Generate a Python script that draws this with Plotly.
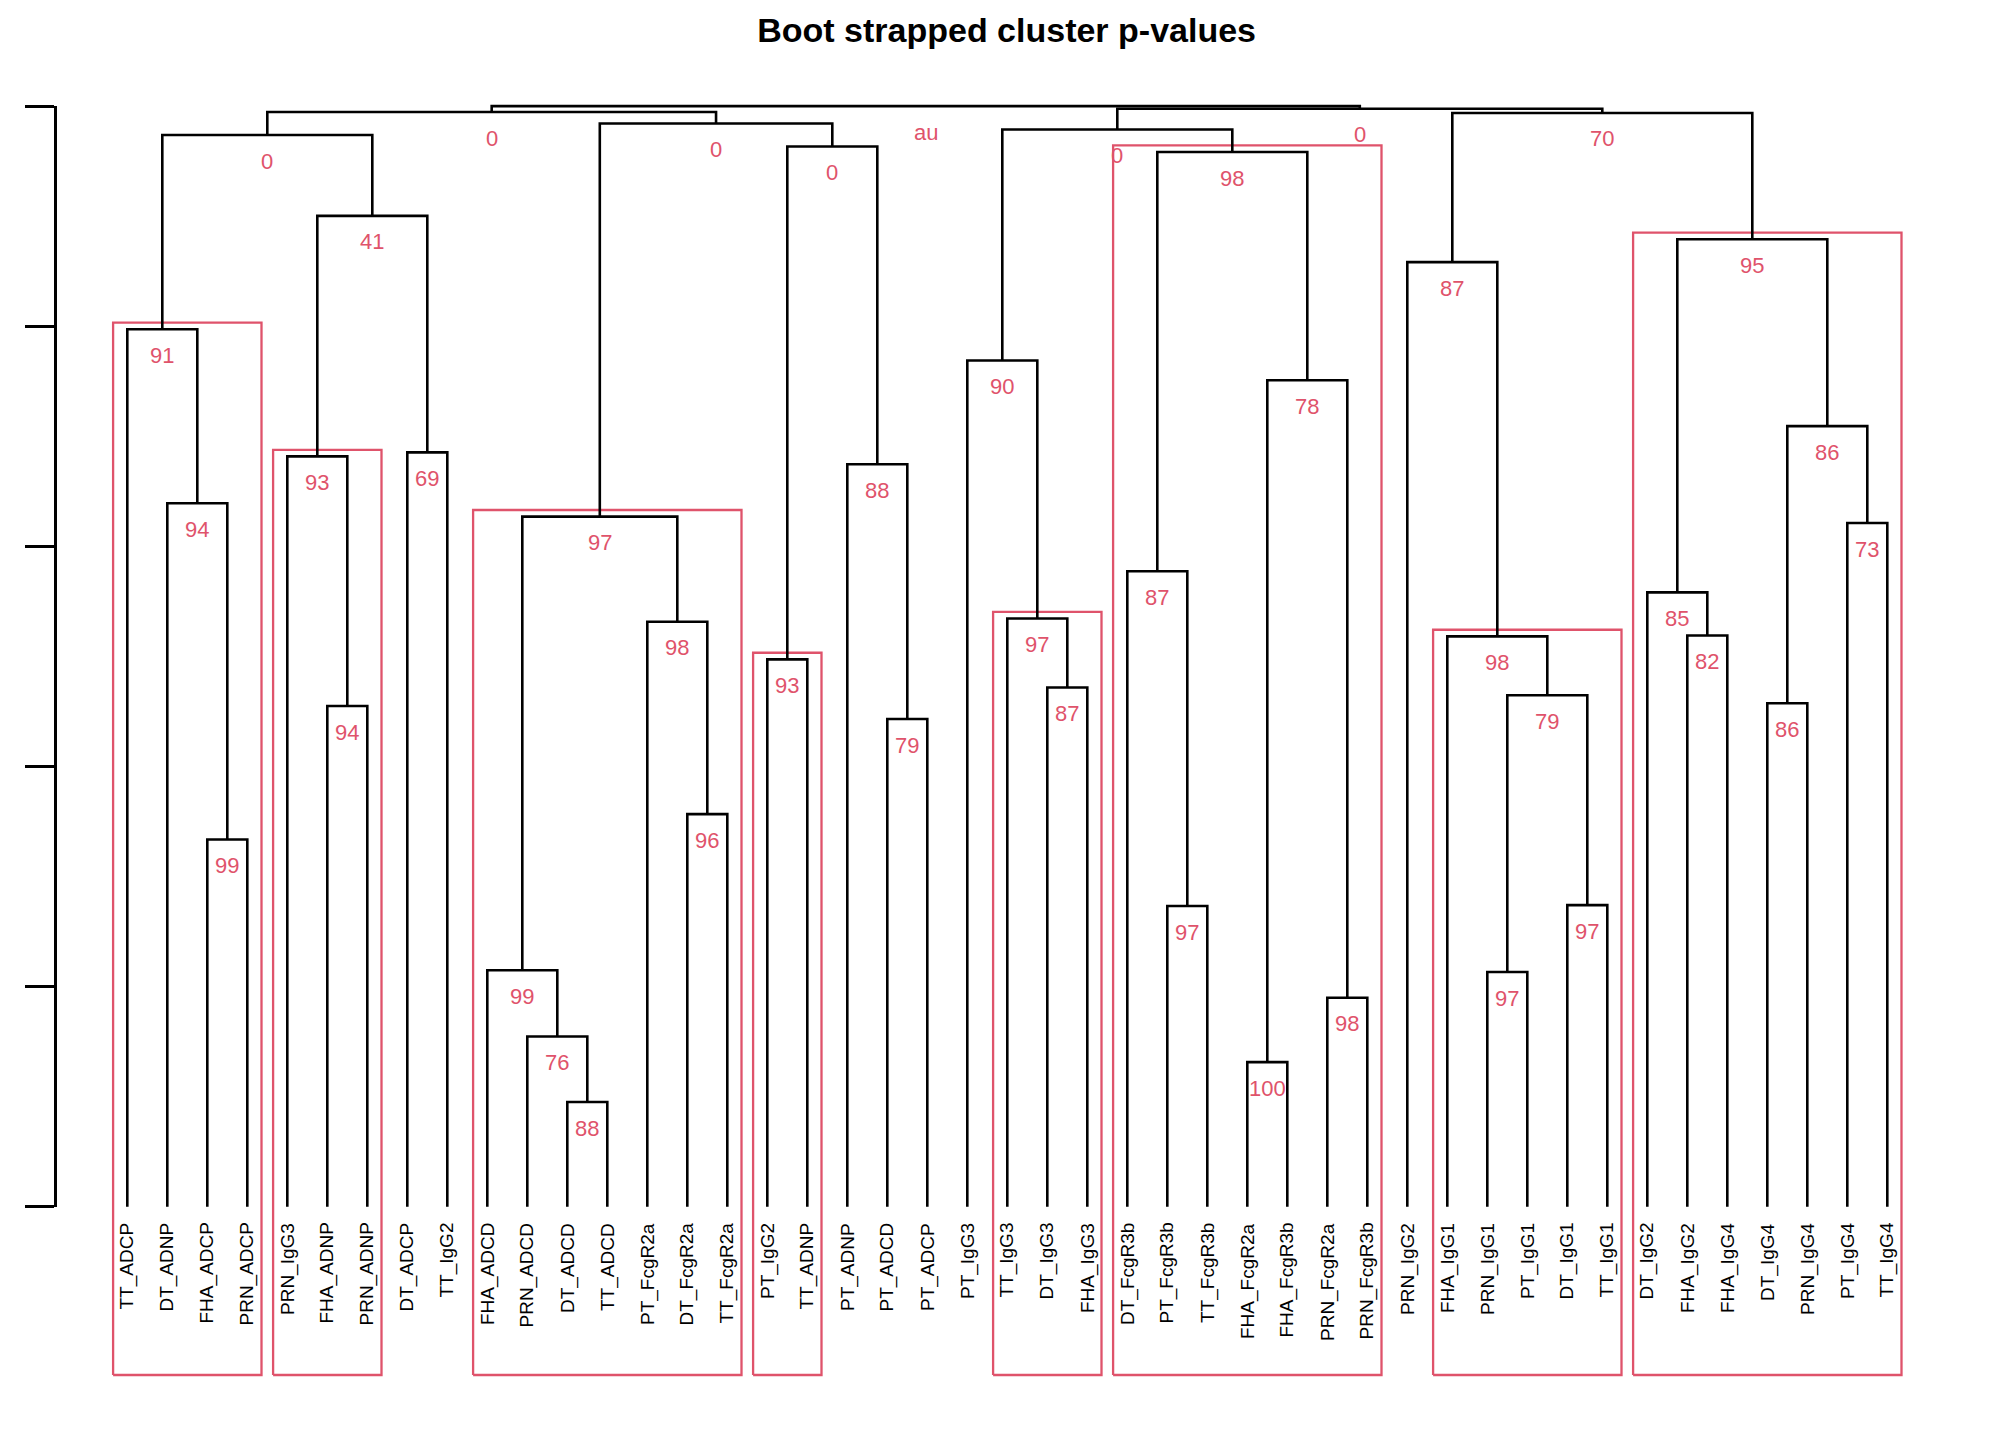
import plotly.graph_objects as go

# ---------------- data ----------------
leaf_labels = [
    "TT_ADCP", "DT_ADNP", "FHA_ADCP", "PRN_ADCP",
    "PRN_IgG3", "FHA_ADNP", "PRN_ADNP",
    "DT_ADCP", "TT_IgG2",
    "FHA_ADCD", "PRN_ADCD", "DT_ADCD", "TT_ADCD", "PT_FcgR2a", "DT_FcgR2a", "TT_FcgR2a",
    "PT_IgG2", "TT_ADNP",
    "PT_ADNP", "PT_ADCD", "PT_ADCP",
    "PT_IgG3",
    "TT_IgG3", "DT_IgG3", "FHA_IgG3",
    "DT_FcgR3b", "PT_FcgR3b", "TT_FcgR3b", "FHA_FcgR2a", "FHA_FcgR3b", "PRN_FcgR2a", "PRN_FcgR3b",
    "PRN_IgG2",
    "FHA_IgG1", "PRN_IgG1", "PT_IgG1", "DT_IgG1", "TT_IgG1",
    "DT_IgG2", "FHA_IgG2", "FHA_IgG4", "DT_IgG4", "PRN_IgG4", "PT_IgG4", "TT_IgG4",
]

# hclust-style merge list: -k = leaf k (1-based, plot order), +k = merge k (1-based)
merge_left = [-12, -29, -11, -31, -35, -10, -27, -37, -3, -15,
              -20, -6, -42, 5, -24, -17, -34, -40, -14, -23,
              -39, -26, -44, 6, -2, -19, -5, -8, 13, 2,
              -22, -1, -33, 21, 27, 22, 16, 32, 31, 24,
              33, 38, 39, 42]
merge_right = [-13, -30, 1, -32, -36, 3, -28, -38, -4, -16,
               -21, -7, -43, 8, -25, -18, 14, -41, 10, 15,
               18, 7, -45, 19, 9, 11, 12, -9, 23, 4,
               20, 25, 17, 29, 28, 30, 26, 35, 36, 37,
               34, 40, 41, 43]
merge_height = [0.0951, 0.1314, 0.1547, 0.1898, 0.2132, 0.2148, 0.2732, 0.2740, 0.3337, 0.3567,
                0.4431, 0.4549, 0.4574, 0.4647, 0.4718, 0.4973, 0.5182, 0.5190, 0.5315, 0.5344,
                0.5582, 0.5774, 0.6212, 0.6270, 0.6391, 0.6746, 0.6817, 0.6854, 0.7092, 0.7509,
                0.7689, 0.7973, 0.8582, 0.8790, 0.9003, 0.9583, 0.9633, 0.9737, 0.9788, 0.9842,
                0.9938, 0.9946, 0.9976, 1.0000]
au_labels = ["88", "100", "76", "98", "97", "99", "97", "97", "99", "96",
             "79", "94", "86", "79", "87", "93", "98", "82", "98", "97",
             "85", "87", "73", "97", "94", "88", "93", "69", "86", "78",
             "90", "91", "87", "95", "41", "98", "0", "0", "0", "0",
             "70", "0", "0", "au"]
# clusters outlined by pvrect (merge numbers, 1-based)
rect_clusters = [32, 27, 24, 16, 20, 36, 17, 34]

y_ticks = [0, 0.2, 0.4, 0.6, 0.8, 1.0]
title_text = "Boot strapped cluster p-values"

# ---------------- geometry from the tree ----------------
RED = "#DF536B"
FONT = "Liberation Sans, Arial, sans-serif"
node_x, node_h, node_min, node_max = {}, {}, {}, {}


def ref_info(r):
    if r < 0:
        p = -r - 1
        return float(p), 0.0, p, p
    return node_x[r], node_h[r], node_min[r], node_max[r]


lx, ly = [], []
for k in range(len(merge_left)):
    m = k + 1
    x1, h1, mn1, mx1 = ref_info(merge_left[k])
    x2, h2, mn2, mx2 = ref_info(merge_right[k])
    h = merge_height[k]
    node_x[m] = (x1 + x2) / 2
    node_h[m] = h
    node_min[m] = min(mn1, mn2)
    node_max[m] = max(mx1, mx2)
    lx += [x1, x1, x2, x2, None]
    ly += [h1, h, h, h2, None]

W, H = 2000, 1424
x_range = [-2.6825, 46.7175]
y_range = [-0.16836, 1.04189]
rect_bottom = -0.1529
pad_x = 0.355
pad_y = 0.006

rx, ry = [], []
for m in rect_clusters:
    xl = node_min[m] - pad_x
    xr = node_max[m] + pad_x
    yt = node_h[m] + pad_y
    rx += [xl, xr, xr, xl, xl, None]
    ry += [rect_bottom, rect_bottom, yt, yt, rect_bottom, None]

fig = go.Figure()
fig.add_trace(go.Scatter(x=rx, y=ry, mode="lines",
                         line=dict(color=RED, width=2.3),
                         hoverinfo="skip", showlegend=False))
fig.add_trace(go.Scatter(x=lx, y=ly, mode="lines",
                         line=dict(color="black", width=2.6),
                         hoverinfo="skip", showlegend=False))
# invisible trace that hosts the height axis
fig.add_trace(go.Scatter(x=[0], y=[0], xaxis="x2", yaxis="y2", mode="markers",
                         marker=dict(opacity=0), hoverinfo="skip", showlegend=False))

annotations = []
for k in range(len(au_labels)):
    m = k + 1
    annotations.append(dict(
        x=node_x[m], y=node_h[m], xref="x", yref="y", text=au_labels[k],
        showarrow=False, xanchor="center", yanchor="middle", yshift=-26,
        font=dict(family=FONT, size=22, color=RED)))
for i, lab in enumerate(leaf_labels):
    annotations.append(dict(
        x=i, y=0, xref="x", yref="y", text=lab, showarrow=False,
        textangle=-90, xanchor="center", yanchor="top", yshift=-14,
        font=dict(family=FONT, size=19, color="black")))

fig.update_layout(
    width=W, height=H,
    margin=dict(l=12, r=12, t=52, b=40),
    paper_bgcolor="white", plot_bgcolor="rgba(0,0,0,0)",
    title=dict(text="<b>" + title_text + "</b>", x=0.4993, xanchor="center",
               y=1 - 22 / H, yanchor="middle",
               font=dict(family=FONT, size=34, color="black")),
    xaxis=dict(range=x_range, visible=False, domain=[0, 1]),
    yaxis=dict(range=y_range, visible=False, domain=[0, 1]),
    xaxis2=dict(domain=[0.018522, 1], range=[0, 1], visible=False, anchor="y2"),
    yaxis2=dict(domain=[0.13911, 0.96539], range=[0, 1], anchor="x2",
                tickvals=y_ticks, showticklabels=False, ticks="outside",
                ticklen=29, tickwidth=2.6, tickcolor="black",
                showline=True, linewidth=2.6, linecolor="black",
                showgrid=False, zeroline=False),
    annotations=annotations,
)

fig.write_html("out.html")
